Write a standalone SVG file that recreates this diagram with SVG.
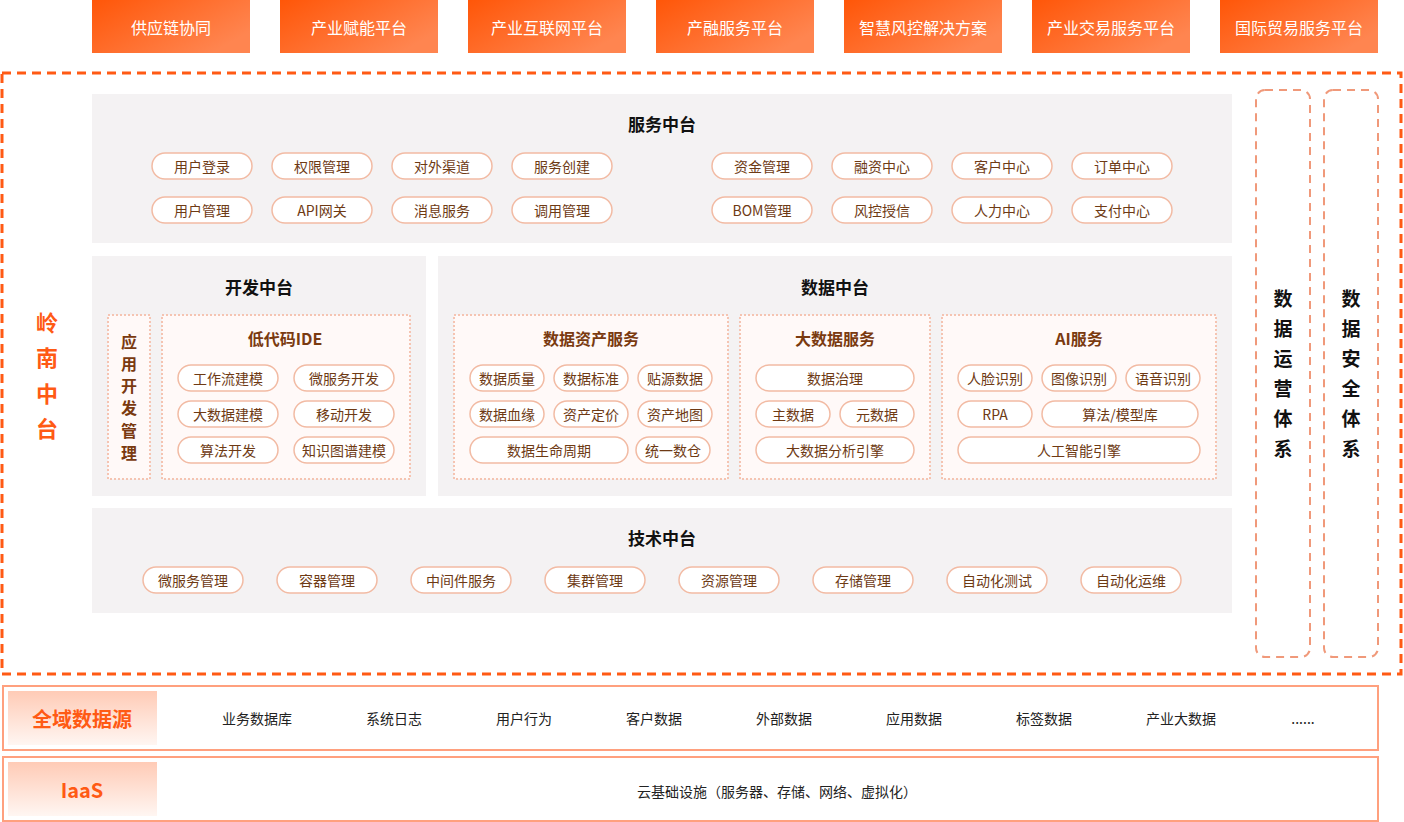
<svg xmlns="http://www.w3.org/2000/svg" width="1404" height="822" viewBox="0 0 1404 822">
<defs>
<linearGradient id="hdr" x1="0" y1="0" x2="1" y2="0.6">
<stop offset="0" stop-color="#FF5608"/>
<stop offset="1" stop-color="#FF8550"/>
</linearGradient>
<linearGradient id="lbl" x1="0" y1="0" x2="0" y2="1">
<stop offset="0" stop-color="#FFCBB6"/>
<stop offset="1" stop-color="#FFF6F2"/>
</linearGradient>
<style>
text{font-family:"Noto Sans CJK SC","Noto Sans",sans-serif;text-anchor:middle;dominant-baseline:central}
.hdr rect{fill:url(#hdr)}
.hdr text{fill:#fff;font-size:16px}
.panel{fill:#F4F2F3}
.ptitle{font-size:17px;font-weight:bold;fill:#111}
.sub{fill:#FFF9F8;stroke:#F5C4B2;stroke-width:2;stroke-dasharray:2,2}
.stitle{font-size:16px;font-weight:bold;fill:#7A3A10}
.pill rect{fill:#fff;stroke:#F2BBA4;stroke-width:1.5}
.pill text{font-size:14px;fill:#6E3A14}
.vcol{fill:none;stroke:#F0997A;stroke-width:2;stroke-dasharray:8,6}
.vtxt{font-size:19px;font-weight:bold;fill:#111}
.row{fill:#fff;stroke:#FFA07E;stroke-width:2}
.rlbl{fill:url(#lbl)}
.rtxt{font-size:20px;font-weight:bold;fill:#FF5A14}
.itm{font-size:14px;fill:#222}
</style>
</defs>
<rect width="1404" height="822" fill="#fff"/>

<g id="top-apps" class="hdr">
<g id="app1"><rect x="92" y="0" width="158" height="53"/><text x="171" y="27">供应链协同</text></g>
<g id="app2"><rect x="280" y="0" width="158" height="53"/><text x="359" y="27">产业赋能平台</text></g>
<g id="app3"><rect x="468" y="0" width="158" height="53"/><text x="547" y="27">产业互联网平台</text></g>
<g id="app4"><rect x="656" y="0" width="158" height="53"/><text x="735" y="27">产融服务平台</text></g>
<g id="app5"><rect x="844" y="0" width="158" height="53"/><text x="923" y="27">智慧风控解决方案</text></g>
<g id="app6"><rect x="1032" y="0" width="158" height="53"/><text x="1111" y="27">产业交易服务平台</text></g>
<g id="app7"><rect x="1220" y="0" width="158" height="53"/><text x="1299" y="27">国际贸易服务平台</text></g>
</g>

<g id="lingnan">
<rect x="2" y="73" width="1399" height="601" fill="none" stroke="#FF5A14" stroke-width="3" stroke-dasharray="9,6"/>
<text x="47" y="321" font-size="22" font-weight="bold" fill="#FF5A14">岭</text>
<text x="47" y="356" font-size="22" font-weight="bold" fill="#FF5A14">南</text>
<text x="47" y="392" font-size="22" font-weight="bold" fill="#FF5A14">中</text>
<text x="47" y="427" font-size="22" font-weight="bold" fill="#FF5A14">台</text>
</g>

<g id="service">
<rect class="panel" x="92" y="94" width="1140" height="149"/>
<text class="ptitle" x="662" y="123">服务中台</text>
<g class="pill">
<rect x="152" y="153" width="100" height="26" rx="13"/><text x="202" y="165.5">用户登录</text>
<rect x="272" y="153" width="100" height="26" rx="13"/><text x="322" y="165.5">权限管理</text>
<rect x="392" y="153" width="100" height="26" rx="13"/><text x="442" y="165.5">对外渠道</text>
<rect x="512" y="153" width="100" height="26" rx="13"/><text x="562" y="165.5">服务创建</text>
<rect x="712" y="153" width="100" height="26" rx="13"/><text x="762" y="165.5">资金管理</text>
<rect x="832" y="153" width="100" height="26" rx="13"/><text x="882" y="165.5">融资中心</text>
<rect x="952" y="153" width="100" height="26" rx="13"/><text x="1002" y="165.5">客户中心</text>
<rect x="1072" y="153" width="100" height="26" rx="13"/><text x="1122" y="165.5">订单中心</text>
<rect x="152" y="197" width="100" height="26" rx="13"/><text x="202" y="209.5">用户管理</text>
<rect x="272" y="197" width="100" height="26" rx="13"/><text x="322" y="209.5">API网关</text>
<rect x="392" y="197" width="100" height="26" rx="13"/><text x="442" y="209.5">消息服务</text>
<rect x="512" y="197" width="100" height="26" rx="13"/><text x="562" y="209.5">调用管理</text>
<rect x="712" y="197" width="100" height="26" rx="13"/><text x="762" y="209.5">BOM管理</text>
<rect x="832" y="197" width="100" height="26" rx="13"/><text x="882" y="209.5">风控授信</text>
<rect x="952" y="197" width="100" height="26" rx="13"/><text x="1002" y="209.5">人力中心</text>
<rect x="1072" y="197" width="100" height="26" rx="13"/><text x="1122" y="209.5">支付中心</text>
</g>
</g>

<g id="dev">
<rect class="panel" x="92" y="256" width="334" height="240"/>
<text class="ptitle" x="259" y="286">开发中台</text>
<g id="appdev">
<rect class="sub" x="108" y="315" width="42" height="164"/>
<text class="stitle" x="129" y="341" font-size="15">应</text>
<text class="stitle" x="129" y="363" font-size="15">用</text>
<text class="stitle" x="129" y="385" font-size="15">开</text>
<text class="stitle" x="129" y="407" font-size="15">发</text>
<text class="stitle" x="129" y="430" font-size="15">管</text>
<text class="stitle" x="129" y="452" font-size="15">理</text>
</g>
<g id="lowcode">
<rect class="sub" x="162" y="315" width="248" height="164"/>
<text class="stitle" x="285" y="338">低代码IDE</text>
<g class="pill">
<rect x="178" y="365" width="100" height="26" rx="13"/><text x="228" y="377.5">工作流建模</text>
<rect x="294" y="365" width="100" height="26" rx="13"/><text x="344" y="377.5">微服务开发</text>
<rect x="178" y="401" width="100" height="26" rx="13"/><text x="228" y="413.5">大数据建模</text>
<rect x="294" y="401" width="100" height="26" rx="13"/><text x="344" y="413.5">移动开发</text>
<rect x="178" y="437" width="100" height="26" rx="13"/><text x="228" y="449.5">算法开发</text>
<rect x="294" y="437" width="100" height="26" rx="13"/><text x="344" y="449.5">知识图谱建模</text>
</g>
</g>
</g>

<g id="data">
<rect class="panel" x="438" y="256" width="794" height="240"/>
<text class="ptitle" x="835" y="286">数据中台</text>
<g id="asset">
<rect class="sub" x="454" y="315" width="274" height="164"/>
<text class="stitle" x="591" y="338">数据资产服务</text>
<g class="pill">
<rect x="470" y="365" width="74" height="26" rx="13"/><text x="507" y="377.5">数据质量</text>
<rect x="554" y="365" width="74" height="26" rx="13"/><text x="591" y="377.5">数据标准</text>
<rect x="638" y="365" width="74" height="26" rx="13"/><text x="675" y="377.5">贴源数据</text>
<rect x="470" y="401" width="74" height="26" rx="13"/><text x="507" y="413.5">数据血缘</text>
<rect x="554" y="401" width="74" height="26" rx="13"/><text x="591" y="413.5">资产定价</text>
<rect x="638" y="401" width="74" height="26" rx="13"/><text x="675" y="413.5">资产地图</text>
<rect x="470" y="437" width="158" height="26" rx="13"/><text x="549" y="449.5">数据生命周期</text>
<rect x="636" y="437" width="74" height="26" rx="13"/><text x="673" y="449.5">统一数仓</text>
</g>
</g>
<g id="bigdata">
<rect class="sub" x="740" y="315" width="190" height="164"/>
<text class="stitle" x="835" y="338">大数据服务</text>
<g class="pill">
<rect x="756" y="365" width="158" height="26" rx="13"/><text x="835" y="377.5">数据治理</text>
<rect x="756" y="401" width="74" height="26" rx="13"/><text x="793" y="413.5">主数据</text>
<rect x="840" y="401" width="74" height="26" rx="13"/><text x="877" y="413.5">元数据</text>
<rect x="756" y="437" width="158" height="26" rx="13"/><text x="835" y="449.5">大数据分析引擎</text>
</g>
</g>
<g id="ai">
<rect class="sub" x="942" y="315" width="274" height="164"/>
<text class="stitle" x="1079" y="338">AI服务</text>
<g class="pill">
<rect x="958" y="365" width="74" height="26" rx="13"/><text x="995" y="377.5">人脸识别</text>
<rect x="1042" y="365" width="74" height="26" rx="13"/><text x="1079" y="377.5">图像识别</text>
<rect x="1126" y="365" width="74" height="26" rx="13"/><text x="1163" y="377.5">语音识别</text>
<rect x="958" y="401" width="74" height="26" rx="13"/><text x="995" y="413.5">RPA</text>
<rect x="1042" y="401" width="156" height="26" rx="13"/><text x="1120" y="413.5">算法/模型库</text>
<rect x="958" y="437" width="242" height="26" rx="13"/><text x="1079" y="449.5">人工智能引擎</text>
</g>
</g>
</g>

<g id="tech">
<rect class="panel" x="92" y="508" width="1140" height="105"/>
<text class="ptitle" x="662" y="537">技术中台</text>
<g class="pill">
<rect x="143" y="567" width="100" height="26" rx="13"/><text x="193" y="579.5">微服务管理</text>
<rect x="277" y="567" width="100" height="26" rx="13"/><text x="327" y="579.5">容器管理</text>
<rect x="411" y="567" width="100" height="26" rx="13"/><text x="461" y="579.5">中间件服务</text>
<rect x="545" y="567" width="100" height="26" rx="13"/><text x="595" y="579.5">集群管理</text>
<rect x="679" y="567" width="100" height="26" rx="13"/><text x="729" y="579.5">资源管理</text>
<rect x="813" y="567" width="100" height="26" rx="13"/><text x="863" y="579.5">存储管理</text>
<rect x="947" y="567" width="100" height="26" rx="13"/><text x="997" y="579.5">自动化测试</text>
<rect x="1081" y="567" width="100" height="26" rx="13"/><text x="1131" y="579.5">自动化运维</text>
</g>
</g>

<g id="ops">
<rect class="vcol" x="1256" y="90" width="54" height="567" rx="9"/>
<text class="vtxt" x="1283" y="297">数</text>
<text class="vtxt" x="1283" y="327">据</text>
<text class="vtxt" x="1283" y="357">运</text>
<text class="vtxt" x="1283" y="387">营</text>
<text class="vtxt" x="1283" y="417">体</text>
<text class="vtxt" x="1283" y="447">系</text>
</g>
<g id="security">
<rect class="vcol" x="1324" y="90" width="54" height="567" rx="9"/>
<text class="vtxt" x="1351" y="297">数</text>
<text class="vtxt" x="1351" y="327">据</text>
<text class="vtxt" x="1351" y="357">安</text>
<text class="vtxt" x="1351" y="387">全</text>
<text class="vtxt" x="1351" y="417">体</text>
<text class="vtxt" x="1351" y="447">系</text>
</g>

<g id="datasource">
<rect class="row" x="3" y="686" width="1375" height="64"/>
<rect class="rlbl" x="8" y="691" width="149" height="54"/>
<text class="rtxt" x="82" y="718">全域数据源</text>
<text class="itm" x="257" y="718">业务数据库</text>
<text class="itm" x="394" y="718">系统日志</text>
<text class="itm" x="524" y="718">用户行为</text>
<text class="itm" x="654" y="718">客户数据</text>
<text class="itm" x="784" y="718">外部数据</text>
<text class="itm" x="914" y="718">应用数据</text>
<text class="itm" x="1044" y="718">标签数据</text>
<text class="itm" x="1181" y="718">产业大数据</text>
<text class="itm" x="1303" y="718">......</text>
</g>

<g id="iaas">
<rect class="row" x="3" y="757" width="1375" height="64"/>
<rect class="rlbl" x="8" y="762" width="149" height="54"/>
<text class="rtxt" x="82" y="789">IaaS</text>
<text class="itm" x="777" y="791">云基础设施（服务器、存储、网络、虚拟化）</text>
</g>

<g id="connectors"/>
</svg>
